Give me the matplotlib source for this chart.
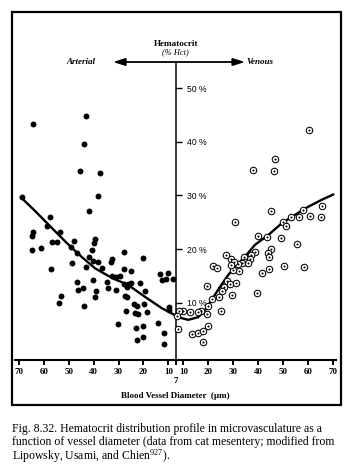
import matplotlib
matplotlib.use('Agg')
import matplotlib.pyplot as plt
from matplotlib.patches import Rectangle

plt.rcParams['font.family'] = 'Liberation Serif'
plt.rcParams['mathtext.fontset'] = 'custom'
plt.rcParams['mathtext.rm'] = 'Liberation Serif'
plt.rcParams['mathtext.it'] = 'Liberation Serif:italic'

# arterial side (filled dots): vessel diameter (um) and hematocrit (%)
art_d = [43.1, 64.3, 43.9, 45.6, 37.4, 38.4, 41.7, 68.8, 57.6, 58.6,
         53.5, 64.5, 64.6, 56.6, 54.9, 47.9, 39.4, 40.0, 64.6, 61.3,
         49.2, 46.6, 40.5, 41.9, 40.3, 38.4, 48.7, 43.1, 57.1, 36.8,
         32.9, 32.5, 27.9, 20.3, 27.7, 24.8, 32.8, 31.0, 29.6, 40.3,
         46.8, 34.8, 34.1, 27.8, 26.1, 25.0, 26.7, 21.4, 13.3, 10.0,
         12.7, 10.9, 8.2, 44.4, 46.4, 39.2, 30.9, 19.4, 53.1, 39.4,
         27.6, 26.6, 54.0, 43.9, 23.6, 22.7, 19.8, 27.0, 23.2, 22.3,
         18.7, 9.9, 9.7, 30.1, 20.0, 22.8, 14.1, 22.5, 20.1, 11.9, 11.9]
art_h = [44.8, 43.3, 39.6, 34.5, 34.2, 29.9, 27.2, 29.7, 25.9, 24.3,
         23.2, 23.2, 22.4, 21.4, 21.4, 21.6, 21.9, 21.1, 19.9, 20.2,
         20.3, 19.3, 19.8, 18.6, 17.8, 17.6, 17.4, 16.7, 16.3, 16.4,
         17.6, 18.1, 19.5, 18.3, 16.2, 16.0, 15.0, 14.8, 15.0, 14.2,
         13.8, 13.8, 12.8, 13.4, 13.5, 13.6, 13.0, 13.7, 15.4, 15.5,
         14.3, 14.4, 14.4, 12.7, 12.4, 12.2, 12.3, 12.2, 11.3, 11.1,
         11.3, 11.1, 9.9, 9.4, 9.8, 9.3, 9.7, 8.5, 8.0, 7.9,
         8.2, 9.2, 8.6, 6.0, 5.7, 5.2, 6.2, 3.1, 3.6, 4.3, 2.3]

# venous side (dotted circles)
ven_d = [60.4, 47.0, 38.0, 46.4, 45.1, 30.8, 65.6, 58.1, 60.9, 65.2,
         56.5, 53.1, 50.1, 51.2, 39.9, 43.6, 49.2, 55.8, 45.2, 44.0,
         44.4, 38.7, 37.2, 36.6, 34.4, 34.8, 33.5, 36.1, 32.0, 32.4,
         30.1, 29.0, 30.2, 29.2, 27.2, 22.1, 23.4, 19.7, 27.6, 28.6,
         31.3, 29.6, 26.4, 25.4, 24.5, 21.7, 19.8, 25.0, 17.1, 16.0,
         19.7, 12.7, 10.0, 8.4, 7.4, 8.0, 13.4, 16.0, 18.0, 19.8,
         17.8, 50.6, 58.5, 44.6, 41.8, 39.7]
ven_h = [42.2, 36.8, 34.8, 34.5, 27.2, 25.1, 28.1, 27.3, 26.1, 25.9,
         25.9, 26.0, 25.1, 24.4, 22.5, 22.3, 22.0, 21.0, 20.1, 19.2,
         18.6, 19.4, 18.9, 18.1, 18.5, 17.6, 17.4, 17.4, 17.2, 16.0,
         16.1, 18.1, 17.6, 17.1, 18.9, 16.9, 16.4, 13.1, 14.0, 13.4,
         13.7, 11.5, 13.0, 12.2, 11.1, 10.7, 9.4, 8.5, 8.5, 8.2,
         7.8, 8.3, 8.5, 8.5, 7.6, 5.1, 4.1, 4.3, 4.7, 5.7,
         2.6, 16.9, 16.6, 16.2, 15.6, 11.9]

# profile line drawn through the data
curve_art_d = [69.3, 63.5, 56.7, 50.7, 44.7, 39.4, 32.6, 26.1, 19.4, 12.7, 7.0]
curve_art_h = [29.7, 27.1, 23.9, 21.1, 18.5, 16.4, 14.6, 13.3, 11.1, 9.0, 7.6]
curve_ven_d = [7.0, 9.5, 12.0, 16.0, 18.7, 21.4, 24.8, 28.1, 31.5, 34.8,
               38.8, 44.1, 49.5, 54.9, 60.2, 65.6, 70.3]
curve_ven_h = [7.6, 7.1, 6.8, 7.3, 8.6, 10.5, 13.0, 15.2, 17.0, 18.6,
               20.8, 22.6, 24.8, 26.4, 27.9, 29.2, 30.2]

diam_ticks = [10, 20, 30, 40, 50, 60, 70]
hct_ticks = [10, 20, 30, 40, 50]
hct_labels = ['10 %', '20 %', '30 %', '40 %', '50 %']

caption = ['Fig. 8.32. Hematocrit distribution profile in microvasculature as a',
           'function of vessel diameter (data from cat mesentery; modified from',
           'Lipowsky, Usami, and Chien$^{927}$).']

W, H = 352, 474
fig = plt.figure(figsize=(W / 100, H / 100), dpi=100)

# overlay in pixel units for frame, arrow and text
ov = fig.add_axes([0, 0, 1, 1])
ov.set_xlim(0, W)
ov.set_ylim(H, 0)
ov.axis('off')

y_bot, y_top = 359.5, 61.5
ax_l = fig.add_axes([15.2 / W, 1 - y_bot / H, (175.8 - 15.2) / W, (y_bot - y_top) / H])
ax_r = fig.add_axes([175.8 / W, 1 - y_bot / H, (336.4 - 175.8) / W, (y_bot - y_top) / H])

for ax in (ax_l, ax_r):
    ax.set_facecolor('none')
    ax.set_ylim(-0.6, 55)
    for s in ('top', 'right', 'left'):
        ax.spines[s].set_visible(False)
    ax.spines['bottom'].set_linewidth(1.5)
    ax.tick_params(axis='x', direction='out', length=3.8, width=1.4, pad=2.5,
                   labelsize=6.5)

ax_l.set_xlim(71.5, 7)
ax_r.set_xlim(7, 71.5)
ax_l.set_yticks([])
ax_l.set_xticks(diam_ticks)
ax_l.set_xticklabels([str(t) for t in diam_ticks], fontweight='bold')
ax_r.set_xticks([7] + diam_ticks)
ax_r.set_xticklabels(['\n7'] + [str(t) for t in diam_ticks], fontweight='bold')

# center axis carries the hematocrit scale
ax_r.spines['left'].set_visible(True)
ax_r.spines['left'].set_linewidth(1.1)
ax_r.set_yticks(hct_ticks)
ax_r.set_yticklabels(hct_labels, family='Liberation Sans', fontsize=6.2)
ax_r.tick_params(axis='y', direction='in', length=4.5, width=1.0, pad=-8)
for lab in ax_r.get_yticklabels():
    lab.set_horizontalalignment('left')

ax_l.scatter(art_d, art_h, s=18, color='black', linewidths=0, zorder=3, clip_on=False)
ax_l.plot(curve_art_d, curve_art_h, color='black', lw=1.7, solid_joinstyle='round',
          solid_capstyle='round', clip_on=False)

ax_r.scatter(ven_d, ven_h, s=22, facecolor='white', edgecolor='black', linewidths=0.75,
             zorder=3, clip_on=False)
ax_r.scatter(ven_d, ven_h, s=2.2, color='black', linewidths=0, zorder=4, clip_on=False)
ax_r.plot(curve_ven_d, curve_ven_h, color='black', lw=1.7, solid_joinstyle='round',
          solid_capstyle='round', clip_on=False)

# frame and header
ov.add_patch(Rectangle((12, 12), 329, 393, fill=False, lw=1.6, ec='black'))
ov.annotate('', xy=(113, 62), xytext=(245, 62),
            arrowprops=dict(arrowstyle='<|-|>,head_length=0.7,head_width=0.22',
                            mutation_scale=10, lw=1.3, color='black',
                            shrinkA=0, shrinkB=0))
ov.text(175.7, 44.3, 'Hematocrit', ha='center', va='center', fontsize=6.6,
        fontweight='bold')
ov.text(175.7, 52.5, '(% Hct)', ha='center', va='center', fontsize=6, style='italic')
ov.text(81, 61.5, 'Arterial', ha='center', va='center', fontsize=6.5, style='italic',
        fontweight='bold')
ov.text(246.5, 61.5, 'Venous', ha='left', va='center', fontsize=6.5, style='italic',
        fontweight='bold')
ov.text(175.5, 395.5, 'Blood Vessel Diameter  (\u00b5m)', ha='center', va='center',
        fontsize=6.5, fontweight='bold')

for i, line in enumerate(caption):
    ov.text(12, 429 + 13.5 * i, line, ha='left', va='center', fontsize=8.5)

fig.savefig('out.png', dpi=100)
